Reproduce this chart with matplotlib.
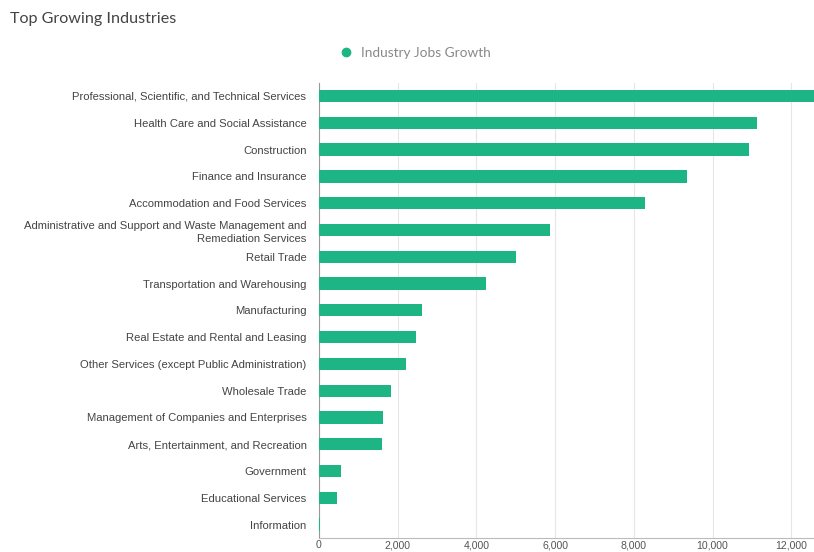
import matplotlib.pyplot as plt
from matplotlib.lines import Line2D

industries = [
    "Professional, Scientific, and Technical Services",
    "Health Care and Social Assistance",
    "Construction",
    "Finance and Insurance",
    "Accommodation and Food Services",
    "Administrative and Support and Waste Management and\nRemediation Services",
    "Retail Trade",
    "Transportation and Warehousing",
    "Manufacturing",
    "Real Estate and Rental and Leasing",
    "Other Services (except Public Administration)",
    "Wholesale Trade",
    "Management of Companies and Enterprises",
    "Arts, Entertainment, and Recreation",
    "Government",
    "Educational Services",
    "Information",
]
jobs_growth = [12800, 11130, 10930, 9350, 8285, 5870, 5006, 4244, 2618,
               2465, 2211, 1830, 1626, 1600, 560, 457, 25]
xticks = [0, 2000, 4000, 6000, 8000, 10000, 12000]

green = "#1db584"
W, H = 814, 552
fig = plt.figure(figsize=(W / 100, H / 100), dpi=100)

# axes runs past the right edge so the longest bar gets clipped
x0, x1 = 319, 319 + 14 * 39.35
y_top, y_bot = 82.6, 538
ax = fig.add_axes([x0 / W, 1 - y_bot / H, (x1 - x0) / W, (y_bot - y_top) / H])

pos = list(range(len(industries)))
ax.barh(pos, jobs_growth, height=0.46, color=green, zorder=3)
ax.set_ylim(len(industries) - 0.5, -0.5)
ax.set_xlim(0, 14000)

ax.set_yticks(pos)
ax.set_yticklabels(industries, fontsize=8.1, color="#444444",
                   family="Liberation Sans")
for lbl in ax.get_yticklabels():
    lbl.set_linespacing(1.35)
ax.set_xticks(xticks)
ax.set_xticklabels([f"{v:,}" for v in xticks], fontsize=7.6, color="#555555",
                   family="Liberation Sans")
ax.tick_params(axis="y", length=0, pad=9)
ax.tick_params(axis="x", length=0, pad=1.5)

ax.grid(axis="x", color="#e6e6e6", linewidth=0.8, zorder=0)
for s in ["top", "right"]:
    ax.spines[s].set_visible(False)
ax.spines["left"].set_color("#999999")
ax.spines["left"].set_linewidth(0.8)
ax.spines["bottom"].set_color("#bbbbbb")
ax.spines["bottom"].set_linewidth(0.8)

fig.text(10 / W, 1 - 19 / H, "Top Growing Industries", fontsize=11.6,
         color="#444444", family="Lato", va="center")

handle = Line2D([], [], marker="o", linestyle="", markersize=6,
                markerfacecolor=green, markeredgecolor=green)
fig.legend([handle], ["Industry Jobs Growth"], loc="center left",
           bbox_to_anchor=(339 / W, 1 - 53 / H), frameon=False,
           prop={"family": "Lato", "size": 9.8}, labelcolor="#888888",
           handlelength=1.0, handletextpad=0.6, borderaxespad=0,
           borderpad=0)

fig.savefig("out.png", dpi=100)
